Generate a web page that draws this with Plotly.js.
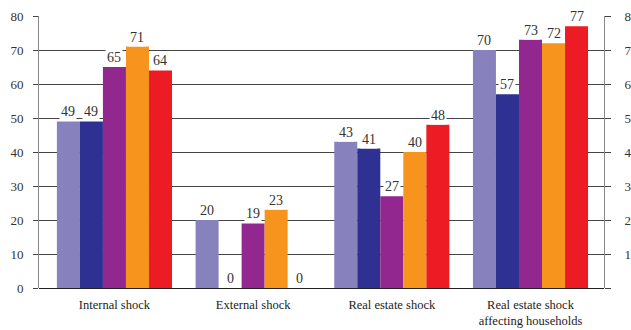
<!DOCTYPE html>
<html>
<head>
<meta charset="utf-8">
<script src="https://cdn.plot.ly/plotly-3.0.1.min.js"></script>
<style>html,body{margin:0;padding:0;background:#fff;}#chart{width:631px;height:330px;}</style>
</head>
<body>
<div id="chart"></div>
<script>
const categories = ["Internal shock", "External shock", "Real estate shock", "Real estate shock<br>affecting households"];
const seriesNames = ["Series 1", "Series 2", "Series 3", "Series 4", "Series 5"];
const series1 = [49, 20, 43, 70];
const series2 = [49, 0, 41, 57];
const series3 = [65, 19, 27, 73];
const series4 = [71, 23, 40, 72];
const series5 = [64, 0, 48, 77];
const leftTickVals = [0, 10, 20, 30, 40, 50, 60, 70, 80];
const rightTickText = ["", "1", "2", "3", "4", "5", "6", "7", "8"];

const SERIF = "Liberation Serif";
const colors = ["#8782BD", "#2E3192", "#92278F", "#F7941D", "#ED1C24"];
const allSeries = [series1, series2, series3, series4, series5];
const bargap = 0.17;
const barW = (1 - bargap) / allSeries.length;

const traces = allSeries.map((vals, i) => ({
  type: "bar",
  name: seriesNames[i],
  x: categories,
  y: vals,
  marker: {color: colors[i], line: {width: 0}},
  hoverinfo: "x+y"
}));
traces.push({
  type: "bar", x: categories, y: series1, yaxis: "y2",
  marker: {color: "rgba(0,0,0,0)"}, showlegend: false, hoverinfo: "skip",
  width: 0
});

const annotations = [];
allSeries.forEach((vals, i) => {
  vals.forEach((v, c) => {
    annotations.push({
      xref: "x", yref: "y",
      x: c + (i - (allSeries.length - 1) / 2) * barW,
      y: v,
      yanchor: "bottom",
      text: String(v),
      showarrow: false,
      bgcolor: "#ffffff",
      borderpad: 1,
      font: {family: SERIF, size: 14, color: "#333"}
    });
  });
});

const layout = {
  width: 631, height: 330,
  margin: {l: 39, r: 27, t: 16, b: 42, pad: 0},
  paper_bgcolor: "#fff", plot_bgcolor: "#fff",
  showlegend: false,
  barmode: "group",
  bargap: bargap,
  bargroupgap: 0,
  font: {family: SERIF, size: 13, color: "#333"},
  xaxis: {
    type: "category",
    range: [-0.544, 3.53],
    showgrid: false, showline: false, zeroline: false,
    ticks: "",
    tickfont: {family: SERIF, size: 12.5, color: "#222"},
    ticklabelstandoff: 7
  },
  yaxis: {
    range: [0, 80],
    tickvals: leftTickVals,
    showgrid: true, gridcolor: "#444", gridwidth: 1,
    zeroline: true, zerolinecolor: "#222", zerolinewidth: 1,
    showline: true, linecolor: "#888", linewidth: 1,
    ticks: "outside", ticklen: 5, tickcolor: "#444", tickwidth: 1,
    tickfont: {family: SERIF, size: 13, color: "#333"},
    ticklabelstandoff: 7
  },
  yaxis2: {
    overlaying: "y", side: "right",
    range: [0, 80],
    tickvals: leftTickVals, ticktext: rightTickText,
    showgrid: false, zeroline: false,
    showline: true, linecolor: "#888", linewidth: 1,
    ticks: "outside", ticklen: 6, tickcolor: "#444", tickwidth: 1,
    tickfont: {family: SERIF, size: 13, color: "#333"},
    ticklabelstandoff: 11
  },
  annotations: annotations
};

Plotly.newPlot("chart", traces, layout, {displayModeBar: false, staticPlot: true});
</script>
</body>
</html>
